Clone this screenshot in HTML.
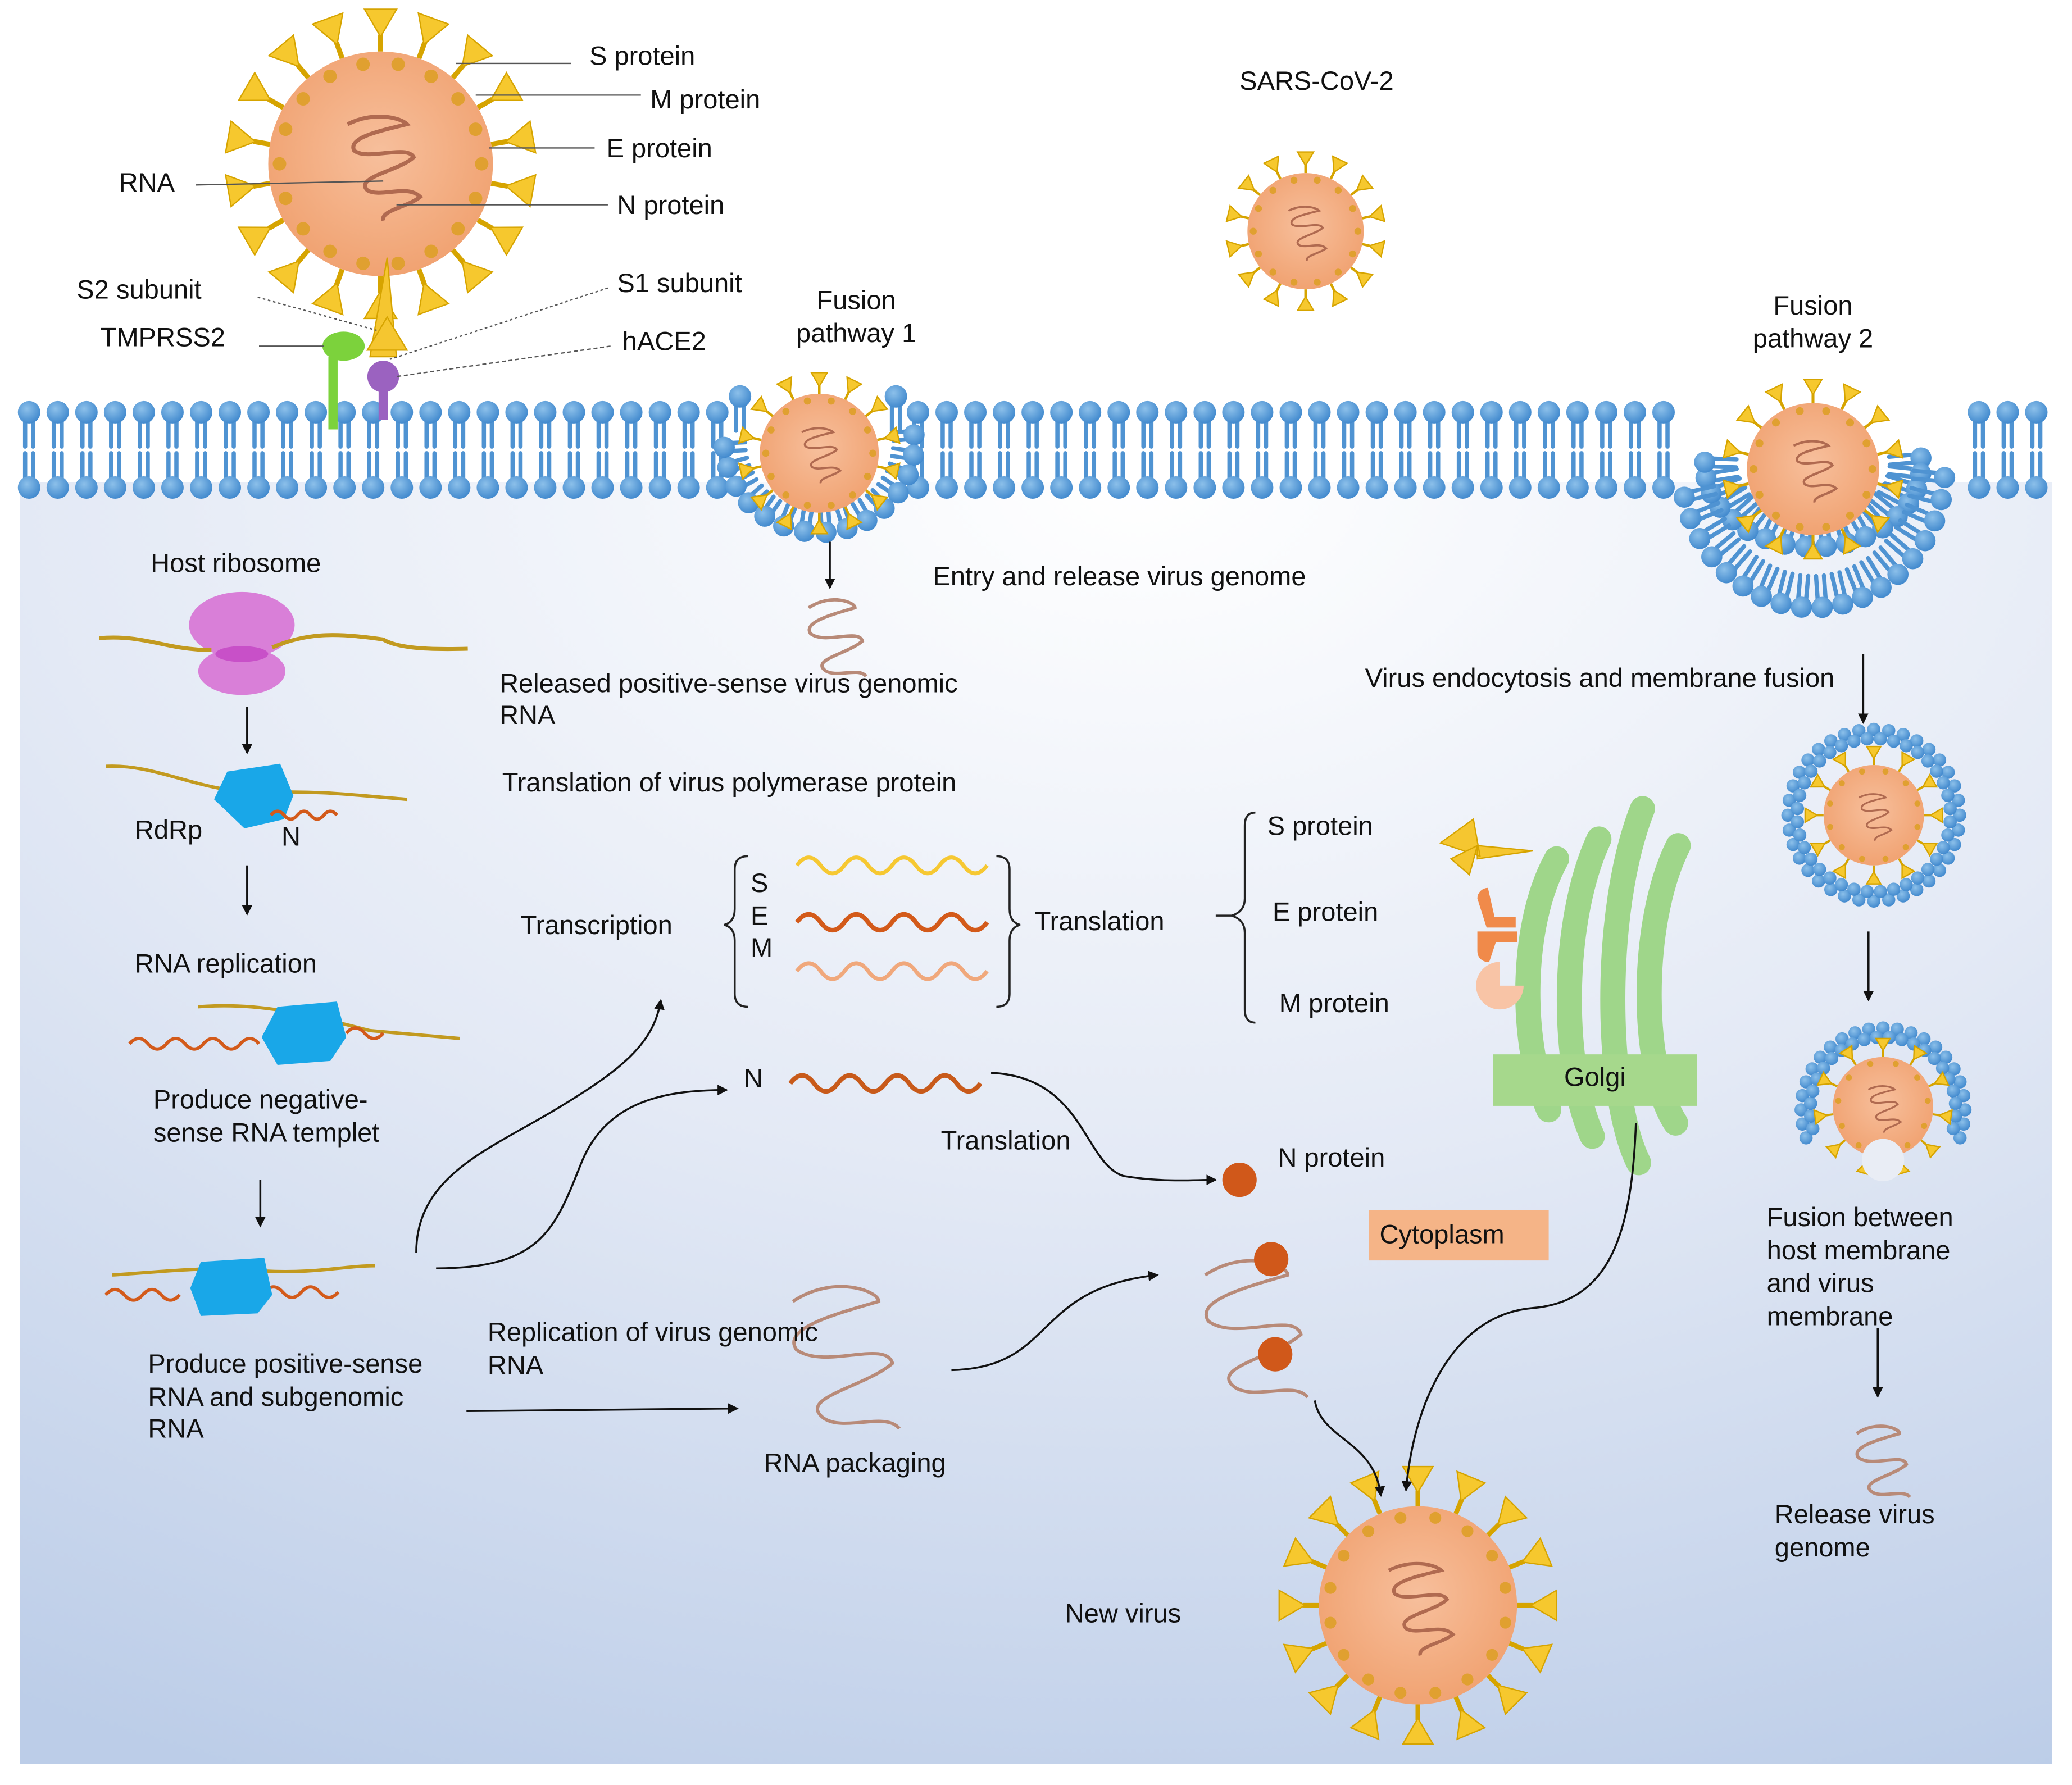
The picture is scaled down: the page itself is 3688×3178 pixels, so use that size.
<!DOCTYPE html>
<html><head><meta charset="utf-8"><style>
html,body{margin:0;padding:0;background:#fff}
svg{display:block}
text{font-family:"Liberation Sans",Arial,sans-serif;fill:#111}
</style></head><body>
<svg id="s" width="3688" height="3178" viewBox="0 0 1568 1351" preserveAspectRatio="none" xmlns="http://www.w3.org/2000/svg">
<defs>
<radialGradient id="bg" cx="0.55" cy="0" r="1.1">
<stop offset="0" stop-color="#ffffff"/><stop offset="0.5" stop-color="#e3e9f5"/><stop offset="1" stop-color="#bccde8"/>
</radialGradient>
<radialGradient id="head" cx="0.4" cy="0.35" r="0.7">
<stop offset="0" stop-color="#8cc0ea"/><stop offset="1" stop-color="#3d86cc"/>
</radialGradient>
<radialGradient id="virg" cx="0.5" cy="0.45" r="0.6">
<stop offset="0" stop-color="#f7bf9c"/><stop offset="1" stop-color="#f0a06e"/>
</radialGradient>
<marker id="ar" markerWidth="8" markerHeight="8" refX="7" refY="4" orient="auto" markerUnits="userSpaceOnUse"><path d="M0,0 L8,4 L0,8 z" fill="#111"/></marker>
</defs>
<rect x="15" y="365" width="1538" height="970" fill="url(#bg)"/>
<g id="mem"></g>
<g id="vlayer"></g>
<g id="misc">
<path d="M252,325 L252,270" stroke="#7cd23c" stroke-width="7"/>
<ellipse cx="260" cy="262" rx="16" ry="11" fill="#7cd23c"/>
<path d="M290,318 L290,290" stroke="#9b62c0" stroke-width="7"/>
<circle cx="290" cy="285" r="12" fill="#9b62c0"/>
<path d="M293,195 L280,270 L300,270 Z" fill="#f5c630" stroke="#d6a400"/>
<path d="M293,240 L278,265 L308,265 Z" fill="#f5c630" stroke="#d6a400"/>
<g stroke="#555" stroke-width="1">
<line x1="345" y1="48" x2="432" y2="48"/><line x1="360" y1="72" x2="485" y2="72"/>
<line x1="370" y1="112" x2="450" y2="112"/><line x1="300" y1="155" x2="460" y2="155"/>
<line x1="148" y1="140" x2="290" y2="137"/>
<line x1="195" y1="225" x2="285" y2="250" stroke-dasharray="2,2"/>
<line x1="196" y1="262" x2="245" y2="262"/>
<line x1="460" y1="218" x2="295" y2="272" stroke-dasharray="2,2"/>
<line x1="462" y1="262" x2="300" y2="285" stroke-dasharray="3,2"/>
</g>
<ellipse cx="183" cy="473" rx="40" ry="25" fill="#d97fd8"/>
<ellipse cx="183" cy="508" rx="33" ry="18" fill="#d97fd8"/>
<ellipse cx="183" cy="495" rx="20" ry="6" fill="#c850c8"/>
<path d="M75,483 C110,480 125,492 160,492 M206,490 C230,480 250,478 290,484 C300,490 320,492 354,491" stroke="#c29a20" stroke-width="3" fill="none"/>
<path d="M80,580 C120,578 150,600 200,600 C240,598 270,602 308,605" stroke="#c29a20" stroke-width="2.5" fill="none"/>
<polygon points="172,584 212,578 222,602 215,620 185,627 162,605" fill="#19a7e8"/>
<path d="M205,617 q5,-6 10,0 t10,0 t10,0 t10,0 t10,0" stroke="#d35a1a" stroke-width="2.5" fill="none"/>
<path d="M150,762 C200,758 240,770 280,780 L348,786" stroke="#c29a20" stroke-width="2.5" fill="none"/>
<path d="M98,790 q7,-8 14,0 t14,0 t14,0 t14,0 t14,0 t14,0 t14,0 M262,782 q7,-8 14,0 t14,0" stroke="#d35a1a" stroke-width="2.5" fill="none"/>
<polygon points="210,762 255,758 262,785 250,803 210,806 198,785" fill="#19a7e8"/>
<path d="M85,965 C130,962 160,958 200,962 C240,964 260,958 284,958" stroke="#c29a20" stroke-width="2.5" fill="none"/>
<path d="M80,980 q7,-8 14,0 t14,0 t14,0 t14,0 M200,978 q7,-8 14,0 t14,0 t14,0 t14,0" stroke="#d35a1a" stroke-width="2.5" fill="none"/>
<polygon points="152,955 200,952 206,980 195,994 152,996 144,975" fill="#19a7e8"/>
<path d="M603,655 q9,-12 18,0 t18,0 t18,0 t18,0 t18,0 t18,0 t18,0 t18,0" stroke="#f6c832" stroke-width="3" fill="none"/>
<path d="M603,698 q9,-12 18,0 t18,0 t18,0 t18,0 t18,0 t18,0 t18,0 t18,0" stroke="#d35a1a" stroke-width="3.5" fill="none"/>
<path d="M603,735 q9,-12 18,0 t18,0 t18,0 t18,0 t18,0 t18,0 t18,0 t18,0" stroke="#f0a87c" stroke-width="3" fill="none"/>
<path d="M598,820 q9,-12 18,0 t18,0 t18,0 t18,0 t18,0 t18,0 t18,0 t18,0" stroke="#c85a1a" stroke-width="3.5" fill="none"/>
<path d="M566,648 q-10,0 -10,10 v30 q0,10 -8,12 q8,2 8,12 v40 q0,10 10,10" stroke="#222" stroke-width="1.5" fill="none"/>
<path d="M754,648 q10,0 10,10 v30 q0,10 8,12 q-8,2 -8,12 v40 q0,10 -10,10" stroke="#222" stroke-width="1.5" fill="none"/>
<path d="M950,615 q-8,0 -8,10 v55 q0,10 -10,13 h-12 M932,693 q10,3 10,13 v58 q0,10 8,10" stroke="#222" stroke-width="1.5" fill="none"/>
<g fill="none" stroke="#9fd68a" stroke-width="19" stroke-linecap="round">
<path d="M1178,650 C1150,700 1150,790 1172,840"/>
<path d="M1210,635 C1180,700 1182,810 1205,860"/>
<path d="M1243,612 C1212,690 1215,830 1240,880"/>
<path d="M1270,640 C1240,700 1242,810 1268,850"/>
</g>
<path d="M1090,638 L1115,620 L1120,648 Z M1118,640 L1160,644 L1118,650 Z" fill="#f5c630" stroke="#d6a400"/>
<path d="M1098,650 L1118,640 L1112,662 Z" fill="#f5c630" stroke="#d6a400"/>
<path d="M1118,680 a8,8 0 0 1 8,-8 l5,22 h16 v8 h-22 Z" fill="#f08a4a"/>
<path d="M1118,705 h30 v8 h-16 l-5,15 a8,8 0 0 1 -9,-8Z" fill="#f08a4a"/>
<path d="M1135,728 a18,18 0 1 0 18,18 h-18 Z" fill="#f8c4a6"/>
<rect x="1130" y="798" width="154" height="39" fill="#a6d88c"/>
<rect x="1036" y="916" width="136" height="38" fill="#f5b487"/>
<circle cx="938" cy="893" r="13" fill="#d0581a"/>
<g stroke="#111" stroke-width="1.5" fill="none" marker-end="url(#ar)">
<line x1="628" y1="410" x2="628" y2="445"/>
<line x1="187" y1="535" x2="187" y2="570"/>
<line x1="187" y1="655" x2="187" y2="692"/>
<line x1="197" y1="893" x2="197" y2="928"/>
<line x1="1410" y1="495" x2="1410" y2="547"/>
<line x1="1414" y1="705" x2="1414" y2="757"/>
<line x1="1421" y1="1005" x2="1421" y2="1057"/>
<path d="M315,948 C315,890 370,870 420,840 C470,810 495,790 500,757"/>
<path d="M330,960 C410,960 420,930 440,880 C460,830 510,825 550,825"/>
<path d="M750,812 C820,815 820,880 850,890 C880,895 900,893 920,893"/>
<path d="M353,1068 L558,1066"/>
<path d="M720,1037 C800,1035 780,975 876,965"/>
<path d="M995,1060 C1000,1090 1040,1090 1045,1132"/>
<path d="M1238,850 C1235,930 1220,985 1160,990 C1100,995 1070,1060 1064,1128"/>
</g>
</g>
<g id="txt" font-size="20">
<text x="446" y="49">S protein</text><text x="492" y="82">M protein</text>
<text x="459" y="119">E protein</text><text x="467" y="162">N protein</text>
<text x="90" y="145">RNA</text>
<text x="58" y="226">S2 subunit</text><text x="76" y="262">TMPRSS2</text>
<text x="467" y="221">S1 subunit</text><text x="471" y="265">hACE2</text>
<text x="648" y="234" text-anchor="middle">Fusion</text><text x="648" y="259" text-anchor="middle">pathway 1</text>
<text x="938" y="68">SARS-CoV-2</text>
<text x="1372" y="238" text-anchor="middle">Fusion</text><text x="1372" y="263" text-anchor="middle">pathway 2</text>
<text x="114" y="433">Host ribosome</text>
<text x="706" y="443">Entry and release virus genome</text>
<text x="378" y="524">Released positive-sense virus genomic</text><text x="378" y="548">RNA</text>
<text x="1033" y="520">Virus endocytosis and membrane fusion</text>
<text x="380" y="599">Translation of virus polymerase protein</text>
<text x="102" y="635">RdRp</text><text x="213" y="640">N</text>
<text x="959" y="632">S protein</text><text x="963" y="697">E protein</text><text x="968" y="766">M protein</text>
<text x="568" y="675">S</text><text x="568" y="700">E</text><text x="568" y="724">M</text>
<text x="394" y="707">Transcription</text><text x="783" y="704">Translation</text>
<text x="102" y="736">RNA replication</text>
<text x="563" y="823">N</text>
<text x="116" y="839">Produce negative-</text><text x="116" y="864">sense RNA templet</text>
<text x="1207" y="822" text-anchor="middle">Golgi</text>
<text x="712" y="870">Translation</text>
<text x="967" y="883">N protein</text>
<text x="1044" y="941">Cytoplasm</text>
<text x="1337" y="928">Fusion between</text><text x="1337" y="953">host membrane</text><text x="1337" y="978">and virus</text><text x="1337" y="1003">membrane</text>
<text x="369" y="1015">Replication of virus genomic</text><text x="369" y="1040">RNA</text>
<text x="112" y="1039">Produce positive-sense</text><text x="112" y="1064">RNA and subgenomic</text><text x="112" y="1088">RNA</text>
<text x="578" y="1114">RNA packaging</text>
<text x="1343" y="1153">Release virus</text><text x="1343" y="1178">genome</text>
<text x="806" y="1228">New virus</text>
</g>
</svg>
<script>
var NS="http://www.w3.org/2000/svg";
function el(p,t,a){var e=document.createElementNS(NS,t);for(var k in a)e.setAttribute(k,a[k]);p.appendChild(e);return e;}
var mem=document.getElementById('mem');
function lipid(x,y,ang,len,r){
 var dx=Math.cos(ang),dy=Math.sin(ang),px=-dy,py=dx;
 for(var s=-1;s<=1;s+=2){
  el(mem,'line',{x1:x+px*s*3+dx*r*0.6,y1:y+py*s*3+dy*r*0.6,x2:x+px*s*3+dx*len,y2:y+py*s*3+dy*len,stroke:'#4f93d2','stroke-width':3.2,'stroke-linecap':'round'});
 }
 el(mem,'circle',{cx:x,cy:y,r:r,fill:'url(#head)'});
}
for(var x=22;x<1555;x+=21.7){
 if(x>548&&x<690)continue;
 if(x>1262&&x<1482)continue;
 lipid(x,312,Math.PI/2,26,8.5);
 lipid(x,369,-Math.PI/2,26,8.5);
}
(function(){var cx=620,cy=335;
 lipid(560,300,Math.PI/2,26,8.5);lipid(678,300,Math.PI/2,26,8.5);
 for(var a=-5;a<=185;a+=13){var t=a*Math.PI/180;
  lipid(cx+72*Math.cos(t),cy+68*Math.sin(t),t+Math.PI,16,8);}
})();
(function(){var cx=1372,cy=352;
 for(var a=-5;a<=185;a+=11){var t=a*Math.PI/180;
  lipid(cx+82*Math.cos(t),cy+62*Math.sin(t),t+Math.PI,24,8);}
 for(var a=5;a<=175;a+=9){var t=a*Math.PI/180;
  lipid(cx+100*Math.cos(t),cy+108*Math.sin(t),t+Math.PI,24,8);}
})();
function ring(cx,cy,r,a0,a1,step){for(var a=a0;a<=a1;a+=step){var t=a*Math.PI/180;el(mem,'circle',{cx:cx+r*Math.cos(t),cy:cy+r*Math.sin(t),r:5,fill:'url(#head)'});}}
var vg=document.getElementById('vlayer');
function virus(cx,cy,r,n,sp){
 var g=el(vg,'g',{});
 for(var i=0;i<n;i++){var t=i*2*Math.PI/n-Math.PI/2;var c=Math.cos(t),s=Math.sin(t),L=r+sp;
  var bx=cx+c*r,by=cy+s*r,tx=cx+c*L,ty=cy+s*L,w=sp*0.38;
  el(g,'line',{x1:bx,y1:by,x2:cx+c*(r+sp*0.4),y2:cy+s*(r+sp*0.4),stroke:'#d6a400','stroke-width':Math.max(1.5,sp*0.12)});
  el(g,'polygon',{points:(cx+c*(r+sp*0.35))+','+(cy+s*(r+sp*0.35))+' '+(tx-s*w)+','+(ty+c*w)+' '+(tx+s*w)+','+(ty-c*w),fill:'#f6c82e',stroke:'#d6a400','stroke-width':1});
 }
 el(g,'circle',{cx:cx,cy:cy,r:r,fill:'url(#virg)'});
 for(var i=0;i<n;i++){var t=(i+0.5)*2*Math.PI/n-Math.PI/2;el(g,'circle',{cx:cx+Math.cos(t)*r*0.9,cy:cy+Math.sin(t)*r*0.9,r:r*0.06,fill:'#e0a030'});}
 var k=r/85;
 el(g,'path',{d:'M'+(cx-25)+','+(cy-30)+' c20,-10 40,-5 45,0 c-20,5 -45,10 -40,20 c10,8 40,-5 45,5 c-10,10 -45,15 -35,25 c10,6 30,-5 40,5 c-10,8 -30,10 -28,18',
  transform:'translate('+cx+','+cy+') scale('+k+') translate('+(-cx)+','+(-cy)+')',fill:'none',stroke:'#b06a50','stroke-width':3});
}
ring(1418,617,65,0,360,10);ring(1418,617,58,5,365,10);
virus(1418,617,38,12,14);
ring(1425,840,62,-200,20,10);ring(1425,840,55,-195,15,10);
virus(1425,838,38,11,14);
el(vg,'circle',{cx:1425,cy:878,r:16,fill:'#e9edf5'});
virus(288,124,85,18,32);
virus(988,175,44,14,16);
virus(620,343,45,14,16);
virus(1372,355,50,14,18);
virus(1073,1215,75,16,30);
function rna(x,y,k){el(vg,'path',{d:'M'+x+','+y+' c12,-8 25,-3 25,0 c-14,4 -28,8 -24,14 c8,6 26,-3 28,4 c-8,7 -28,10 -20,16 c6,4 18,-2 22,3',transform:'translate('+x+','+y+') scale('+k+') translate('+(-x)+','+(-y)+')',fill:'none',stroke:'#b88a78','stroke-width':2.5/k});}
rna(612,460,1.4);rna(1405,1085,1.3);
rna(600,985,2.6);rna(912,965,2.5);
el(vg,'circle',{cx:962,cy:953,r:13,fill:'#d0581a'});
el(vg,'circle',{cx:965,cy:1025,r:13,fill:'#d0581a'});
</script>
</body></html>
